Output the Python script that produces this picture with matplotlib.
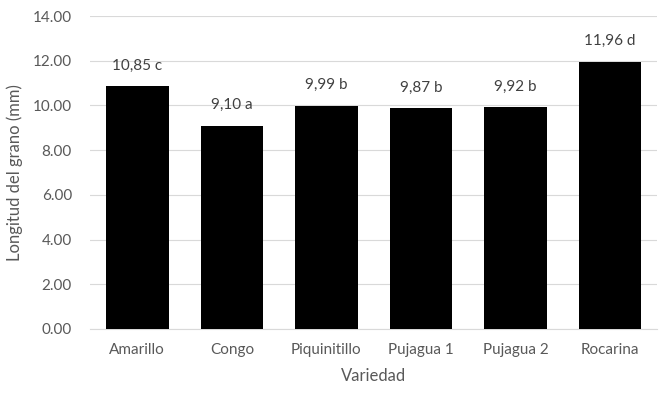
import matplotlib.pyplot as plt

variedades = ["Amarillo", "Congo", "Piquinitillo", "Pujagua 1", "Pujagua 2", "Rocarina"]
longitud = [10.85, 9.10, 9.99, 9.87, 9.92, 11.96]
letras = ["c", "a", "b", "b", "b", "d"]

plt.rcParams['font.family'] = ['Lato', 'DejaVu Sans']
gris = '#595959'

fig = plt.figure(figsize=(6.72, 3.93), dpi=100)
ax = fig.add_axes([0.134, 0.163, 0.844, 0.796])

x = range(len(variedades))
ax.bar(x, longitud, width=0.66, color='black', zorder=3)

for i, v in enumerate(longitud):
    etiqueta = f"{v:.2f}".replace('.', ',') + " " + letras[i]
    ax.annotate(etiqueta, (i, v), xytext=(0, 15), textcoords='offset points',
                ha='center', va='center', fontsize=11, color='#404040')

ax.set_xlim(-0.5, len(variedades) - 0.5)
ax.set_ylim(0, 14)
ax.set_yticks([0, 2, 4, 6, 8, 10, 12, 14])
ax.set_yticklabels([f"{t:.2f}" for t in [0, 2, 4, 6, 8, 10, 12, 14]])
ax.set_xticks(list(x))
ax.set_xticklabels(variedades)
ax.tick_params(axis='both', length=0, colors=gris, labelsize=11)
ax.tick_params(axis='y', pad=13)
ax.tick_params(axis='x', pad=10)
ax.grid(axis='y', color='#d9d9d9', linewidth=0.8, zorder=0)
for s in ['top', 'right', 'left']:
    ax.spines[s].set_visible(False)
ax.spines['bottom'].set_color('#d9d9d9')
ax.set_xlabel("Variedad", fontsize=12, color=gris, labelpad=8)
ax.set_ylabel("Longitud del grano (mm)", fontsize=12, color=gris, labelpad=7)

fig.savefig("out.png", dpi=100)
